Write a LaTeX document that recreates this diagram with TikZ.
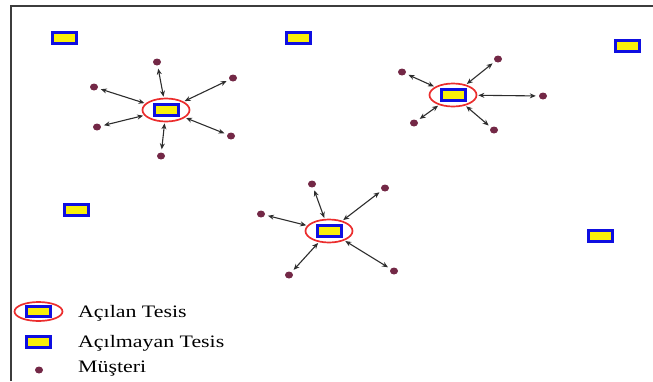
\documentclass[tikz,border=0pt]{standalone}
\usepackage{fontspec}
\setmainfont{Liberation Serif}
\usetikzlibrary{arrows.meta,shapes.geometric}
\definecolor{facblue}{RGB}{15,15,225}
\definecolor{facyellow}{RGB}{250,240,10}
\definecolor{custdot}{RGB}{115,40,70}
\definecolor{ringred}{RGB}{235,45,45}
\definecolor{linkgray}{RGB}{45,45,45}
\definecolor{framegray}{RGB}{60,60,60}
\tikzset{
  facility/.style={rectangle, draw=facblue, fill=facyellow, line width=3pt,
    minimum width=24pt, minimum height=10.5pt, inner sep=0pt},
  ring/.style={ellipse, draw=ringred, line width=1.7pt,
    minimum width=47pt, minimum height=23pt, inner sep=0pt},
  customer/.style={ellipse, fill=custdot, minimum width=8pt,
    minimum height=7pt, inner sep=0pt},
  link/.style={{Stealth[length=6pt,width=5pt]}-{Stealth[length=6pt,width=5pt]},
    draw=linkgray, line width=1.1pt, shorten <=1pt, shorten >=3pt},
  legendtext/.style={anchor=base west, inner sep=0pt,
    font=\fontsize{17.5}{20}\selectfont, text=black}
}
\newcommand{\wide}[1]{\scalebox{1.25}[1]{#1}}
\begin{document}
\begin{tikzpicture}[x=1pt, y=-1pt]
\useasboundingbox (0,0) rectangle (653,381);

% frame (left and top edges)
\coordinate (fbl) at (11,381);
\coordinate (ftl) at (11,6);
\coordinate (ftr) at (653,6);
\draw[framegray, line width=1.3pt] (fbl) -- (ftl) -- (ftr);

% facilities that stay closed
\node[facility] (u1) at (64,38) {};
\node[facility] (u2) at (298,38) {};
\node[facility] (u3) at (627,46) {};
\node[facility] (u4) at (76,210) {};
\node[facility] (u5) at (600,236) {};

% opened facilities
\node[ring] (f1) at (166,110) {};
\node[facility] (f1b) at (166,110) {};
\node[ring] (f2) at (453,95) {};
\node[facility] (f2b) at (453,95) {};
\node[ring] (f3) at (329,231) {};
\node[facility] (f3b) at (329,231) {};

% customers of the first facility
\node[customer] (c11) at (157,62) {};
\node[customer] (c12) at (233,78) {};
\node[customer] (c13) at (94,87) {};
\node[customer] (c14) at (97,127) {};
\node[customer] (c15) at (231,136) {};
\node[customer] (c16) at (161,156) {};

% customers of the second facility
\node[customer] (c21) at (498,59) {};
\node[customer] (c22) at (402,72) {};
\node[customer] (c23) at (543,96) {};
\node[customer] (c24) at (414,123) {};
\node[customer] (c25) at (494,130) {};

% customers of the third facility
\node[customer] (c31) at (312,184) {};
\node[customer] (c32) at (385,188) {};
\node[customer] (c33) at (261,214) {};
\node[customer] (c34) at (289,275) {};
\node[customer] (c35) at (394,271) {};

% assignments
\foreach \c in {c11,c12,c13,c14,c15,c16} \draw[link] (f1) -- (\c);
\foreach \c in {c21,c22,c23,c24,c25} \draw[link] (f2) -- (\c);
\foreach \c in {c31,c32,c33,c34,c35} \draw[link] (f3) -- (\c);

% legend
\node[ring, minimum width=48pt, minimum height=19pt] (lr) at (38.5,311.5) {};
\node[facility] (lrb) at (38.5,311.5) {};
\node[facility] (lf) at (38,342) {};
\node[customer] (lc) at (39,370) {};
\node[legendtext] (t1) at (78,317) {\wide{Açılan Tesis}};
\node[legendtext] (t2) at (78,347) {\wide{Açılmayan Tesis}};
\node[legendtext] (t3) at (78,372.5) {\wide{Müşteri}};
\end{tikzpicture}
\end{document}
